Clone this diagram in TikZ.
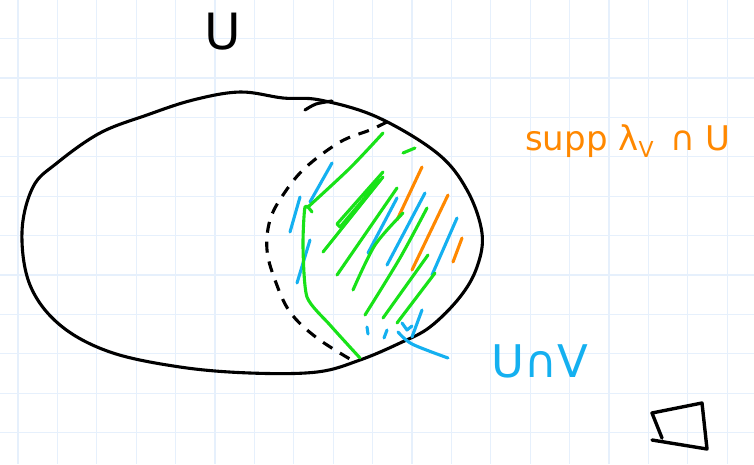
\documentclass[tikz,border=0pt]{standalone}
\usepackage{fontspec}
\setmainfont{DejaVu Sans}
\definecolor{gridc}{RGB}{230,240,252}
\definecolor{pgreen}{RGB}{24,226,24}
\definecolor{pblue}{RGB}{20,176,240}
\definecolor{porange}{RGB}{255,136,0}
\begin{document}
\begin{tikzpicture}[x=1pt,y=-1pt,
  ink/.style={line width=3.1pt,line cap=round,line join=round},
  blk/.style={ink,black},
  grn/.style={ink,pgreen},
  blu/.style={ink,pblue},
  org/.style={ink,porange},
  lbl/.style={inner sep=0pt,anchor=base}]
\useasboundingbox (0,0) rectangle (754,464);
\fill[white] (0,0) rectangle (754,464);
% grid
\foreach \i in {0,...,18} {\draw[gridc,line width=1.2pt] (18+39.4*\i,0) -- (18+39.4*\i,464);}
\foreach \j in {0,...,11} {\draw[gridc,line width=1.2pt] (0,38.5+39.4*\j) -- (754,38.5+39.4*\j);}
% big set U
\draw[blk] plot[smooth cycle,tension=0.6] coordinates {(22,232) (33,187) (57,163) (100,133) (147,115) (193,100) (240,92) (283,98) (320,100) (377,117) (437,153) (467,190) (482,233) (477,267) (460,297) (430,327) (400,343) (360,360) (317,372) (250,373) (180,367) (110,352) (60,325) (30,285)};
% dashed set V
\draw[blk,dash pattern=on 11pt off 9pt,line cap=butt] plot[smooth,tension=0.6] coordinates {(387,122) (370,130) (340,142) (305,168) (283,195) (270,220) (267,250) (275,280) (290,312) (317,338) (355,362)};
\draw[blk] plot[smooth] coordinates {(305,110) (316,104) (332,101)};
% orange hatching
\draw[org] (422,167) -- (397,220);
\draw[org] (448,195) -- (412,270);
\draw[org] (462,238) -- (453,262);
% blue hatching
\draw[blu] (332,163) -- (310,202);
\draw[blu] (300,197) -- (290,232);
\draw[blu] (310,240) -- (297,283);
\draw[blu] (397,198) -- (368,253);
\draw[blu] (425,193) -- (387,265);
\draw[blu] (457,218) -- (432,275);
\draw[blu] (367,327) -- (368,334);
\draw[blu] (387,330) -- (384,338);
\draw[blu] (402,323) -- (407,330) -- (412,326);
\draw[blu] (422,310) -- (412,337);
% green hatching
\draw[grn] plot[smooth,tension=0.5] coordinates {(383,133) (350,168) (308,207)};
\draw[grn] plot[smooth,tension=0.4] coordinates {(312,212) (305,207) (303,247) (307,297) (330,325) (360,358)};
\draw[grn] (403,153) -- (415,148);
\draw[grn] (383,172) -- (337,224) -- (340,227) -- (380,180);
\draw[grn] (383,177) -- (323,252);
\draw[grn] (397,188) -- (337,275);
\draw[grn] plot[smooth] coordinates {(403,213) (375,245) (353,290)};
\draw[grn] plot[smooth] coordinates {(427,208) (400,258) (365,315)};
\draw[grn] (428,255) -- (383,318);
\draw[grn] (435,273) -- (397,323);
% blue pointer to label
\coordinate (ptrend) at (448,358);
\draw[blu] plot[smooth] coordinates {(398,332) (412,344) (ptrend)};
% labels
\node[lbl,font=\fontsize{50}{50}\selectfont] (lu) at (223,49) {U};
\node[lbl,porange,font=\fontsize{34}{34}\selectfont] (lsupp) at (628,150) {supp λ\raisebox{-7pt}{\fontsize{22}{22}\selectfont V}\, ∩ U};
\node[lbl,pblue,font=\fontsize{45}{45}\selectfont] (luv) at (540,377) {U∩V};
% end-of-proof box
\draw[blk,line width=3.4pt] (662,438) -- (652,413) -- (702,403) -- (707,449) -- (652,440);
\end{tikzpicture}
\end{document}
